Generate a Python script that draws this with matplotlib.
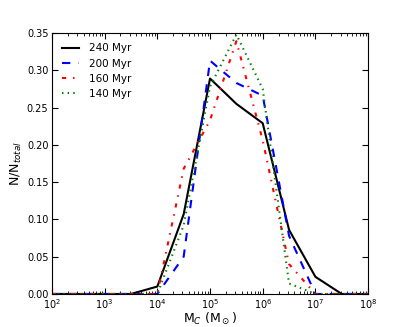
import matplotlib
matplotlib.use("Agg")
import matplotlib.pyplot as plt
import numpy as np

# bin centres in log10(M_C / Msun)
log_mass = [2.0, 2.5, 3.0, 3.5, 4.0, 4.5, 5.0, 5.5, 6.0, 6.5, 7.0, 7.5, 8.0]

frac_240 = [0, 0, 0, 0, 0.010, 0.107, 0.289, 0.255, 0.229, 0.086, 0.023, 0, 0]
frac_200 = [0, 0, 0, 0, 0, 0.050, 0.313, 0.283, 0.266, 0.078, 0, 0, 0]
frac_160 = [0, 0, 0, 0, 0, 0.168, 0.233, 0.339, 0.206, 0.040, 0, 0, 0]
frac_140 = [0, 0, 0, 0, 0, 0.092, 0.278, 0.348, 0.275, 0.014, 0, 0, 0]

labels = ["240 Myr", "200 Myr", "160 Myr", "140 Myr"]

mass = 10 ** np.array(log_mass)

fig = plt.figure(figsize=(4.09, 3.27), dpi=100)
ax = fig.add_axes([0.127, 0.101, 0.773, 0.798])

# old-style (unscaled) dash patterns, expressed relative to lw=1.5
ax.plot(mass, frac_240, color="k", ls="-", lw=1.5, label=labels[0])
ax.plot(mass, frac_200, color="b", ls=(0, (4, 4)), lw=1.5, label=labels[1])
ax.plot(mass, frac_160, color="r", ls=(0, (2, 3.3, 0.7, 3.3)), lw=1.5, label=labels[2])
ax.plot(mass, frac_140, color=(0, 0.5, 0), ls=(0, (0.7, 2)), lw=1.5, label=labels[3])

ax.set_xscale("log")
ax.set_xlim(1e2, 1e8)
ax.set_ylim(0, 0.35)
ax.set_yticks(np.arange(0, 0.351, 0.05))
ax.set_yticklabels([f"{v:.2f}" for v in np.arange(0, 0.351, 0.05)])
ax.tick_params(which="both", direction="in", top=True, right=True, labelsize=7, pad=2.5)
ax.tick_params(which="major", length=4)
ax.tick_params(which="minor", length=2)

ax.set_xlabel(r"M$_C$ (M$_\odot$)", fontsize=9, labelpad=0)
ax.set_ylabel(r"N/N$_{total}$", fontsize=9, labelpad=2)

ax.legend(loc="upper left", frameon=False, fontsize=7.5, handlelength=1.55,
          handletextpad=1.0, borderaxespad=0.6)

fig.savefig("out.png", dpi=100)
